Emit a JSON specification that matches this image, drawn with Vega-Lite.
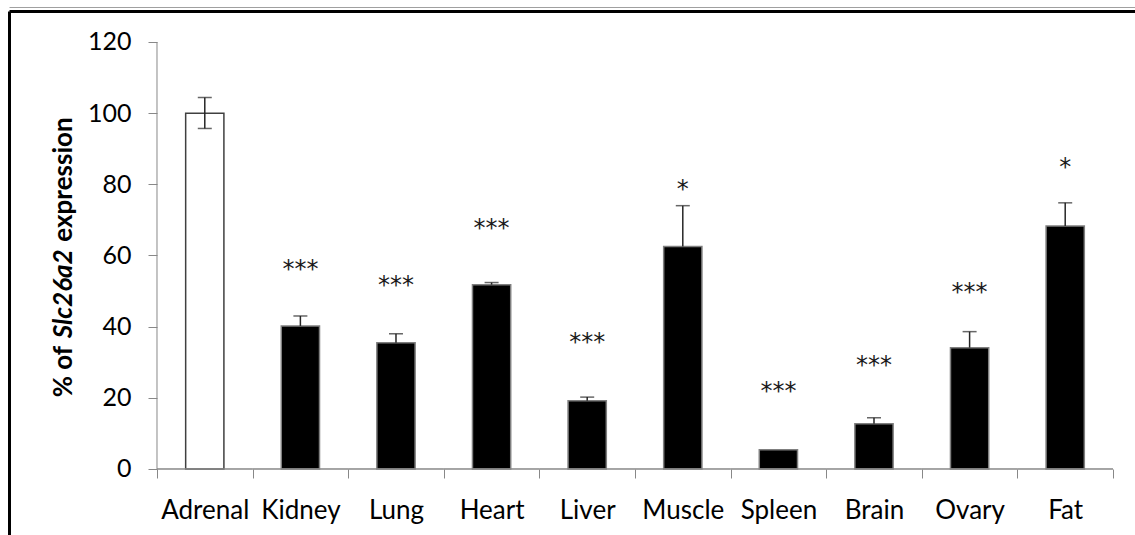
{
  "$schema": "https://vega.github.io/schema/vega-lite/v6.json",
  "width": 1126,
  "height": 524,
  "autosize": {"type": "none"},
  "padding": {"left": 9, "top": 11, "right": 0, "bottom": 0},
  "background": "white",
  "config": {"view": {"stroke": null}, "axis": {"grid": false}},
  "data": {
    "values": [
      {"cat": "Adrenal", "grp": "ctrl", "v": 100, "lo": 95.7, "hi": 104.4, "lc": 95.7, "sy": null, "st": null},
      {"cat": "Kidney", "grp": "test", "v": 40.2, "lo": 40.2, "hi": 43.0, "lc": null, "sy": 57.1, "st": "***"},
      {"cat": "Lung", "grp": "test", "v": 35.5, "lo": 35.5, "hi": 38.0, "lc": null, "sy": 52.5, "st": "***"},
      {"cat": "Heart", "grp": "test", "v": 51.8, "lo": 51.8, "hi": 52.4, "lc": null, "sy": 68.5, "st": "***"},
      {"cat": "Liver", "grp": "test", "v": 19.2, "lo": 19.2, "hi": 20.2, "lc": null, "sy": 36.5, "st": "***"},
      {"cat": "Muscle", "grp": "test", "v": 62.5, "lo": 62.5, "hi": 74.0, "lc": null, "sy": 79.6, "st": "*"},
      {"cat": "Spleen", "grp": "test", "v": 5.4, "lo": null, "hi": null, "lc": null, "sy": 22.7, "st": "***"},
      {"cat": "Brain", "grp": "test", "v": 12.7, "lo": 12.7, "hi": 14.4, "lc": null, "sy": 30.0, "st": "***"},
      {"cat": "Ovary", "grp": "test", "v": 34.1, "lo": 34.1, "hi": 38.6, "lc": null, "sy": 50.5, "st": "***"},
      {"cat": "Fat", "grp": "test", "v": 68.3, "lo": 68.3, "hi": 74.8, "lc": null, "sy": 85.7, "st": "*"}
    ]
  },
  "resolve": {"axis": {"x": "independent", "y": "independent"}},
  "layer": [
    {
      "mark": {"type": "bar", "width": {"band": 0.4}, "strokeWidth": 1.5},
      "encoding": {
        "x": {
          "field": "cat", "type": "nominal", "sort": null,
          "scale": {"paddingInner": 0, "paddingOuter": 0.889, "align": 0.8706},
          "axis": {
            "orient": "bottom", "offset": -66, "title": null, "domain": false,
            "ticks": true, "tickBand": "extent", "tickSize": 9, "tickColor": "#888888", "tickWidth": 1,
            "labelFont": "Lato", "labelFontSize": 26, "labelColor": "#000000",
            "labelAngle": 0, "labelPadding": 40, "labelBaseline": "alphabetic"
          }
        },
        "y": {
          "field": "v", "type": "quantitative",
          "scale": {"domain": [-18.55, 128.71], "nice": false, "zero": false},
          "axis": {
            "orient": "left", "offset": -148, "title": null, "domain": false,
            "values": [0, 20, 40, 60, 80, 100, 120],
            "tickSize": 9, "tickColor": "#888888", "tickWidth": 1,
            "labelFont": "Lato", "labelFontSize": 25, "labelColor": "#000000", "labelPadding": 17
          }
        },
        "y2": {"datum": 0},
        "fill": {"field": "grp", "type": "nominal", "scale": {"domain": ["ctrl", "test"], "range": ["#ffffff", "#000000"]}, "legend": null},
        "stroke": {"field": "grp", "type": "nominal", "scale": {"domain": ["ctrl", "test"], "range": ["#404040", "#7f7f7f"]}, "legend": null}
      }
    },
    {
      "mark": {"type": "rule", "color": "#262626", "strokeWidth": 1.5},
      "encoding": {
        "x": {
          "field": "cat", "type": "nominal", "sort": null,
          "axis": {"orient": "top", "offset": 0, "title": null, "domain": true, "domainColor": "#000000", "domainWidth": 3, "ticks": false, "labels": false}
        },
        "y": {
          "field": "lo", "type": "quantitative",
          "axis": {"orient": "left", "offset": 0, "title": null, "domain": true, "domainColor": "#000000", "domainWidth": 3, "ticks": false, "labels": false}
        },
        "y2": {"field": "hi"}
      }
    },
    {
      "mark": {"type": "tick", "color": "#262626", "thickness": 1.5, "size": 14},
      "encoding": {
        "x": {
          "field": "cat", "type": "nominal", "sort": null,
          "axis": {"orient": "top", "offset": 4, "title": null, "domain": true, "domainColor": "#a0a0a0", "domainWidth": 1, "ticks": false, "labels": false}
        },
        "y": {
          "field": "hi", "type": "quantitative",
          "axis": {
            "orient": "left", "offset": -148, "domain": false, "ticks": false, "labels": false,
            "title": "% of", "titleFont": "Lato", "titleFontSize": 26, "titleFontWeight": "bold", "titleColor": "#000000",
            "titleAngle": -90, "titleAlign": "right", "titleBaseline": "alphabetic", "titleX": -86, "titleY": 334.3
          }
        }
      }
    },
    {
      "mark": {"type": "tick", "color": "#262626", "thickness": 1.5, "size": 14},
      "encoding": {
        "x": {"field": "cat", "type": "nominal", "sort": null, "axis": null},
        "y": {
          "field": "lc", "type": "quantitative",
          "axis": {
            "orient": "left", "offset": -148, "domain": false, "ticks": false, "labels": false,
            "title": "Slc26a2", "titleFont": "Lato", "titleFontSize": 26, "titleFontWeight": "bold", "titleFontStyle": "italic", "titleColor": "#000000",
            "titleAngle": -90, "titleAlign": "center", "titleBaseline": "alphabetic", "titleX": -86, "titleY": 282.25
          }
        }
      }
    },
    {
      "mark": {"type": "text", "font": "DejaVu Sans", "fontSize": 24, "baseline": "alphabetic", "dy": 11, "color": "#1a1a1a"},
      "encoding": {
        "x": {"field": "cat", "type": "nominal", "sort": null, "axis": null},
        "y": {
          "field": "sy", "type": "quantitative",
          "axis": {
            "orient": "left", "offset": -148, "domain": false, "ticks": false, "labels": false,
            "title": "expression", "titleFont": "Lato", "titleFontSize": 26, "titleFontWeight": "bold", "titleColor": "#000000",
            "titleAngle": -90, "titleAlign": "left", "titleBaseline": "alphabetic", "titleX": -86, "titleY": 230.2
          }
        },
        "text": {"field": "st", "type": "nominal"}
      }
    },
    {
      "mark": {"type": "bar", "width": {"band": 1}, "fill": "transparent", "stroke": "#888888", "strokeWidth": 1},
      "encoding": {
        "x": {"field": "cat", "type": "nominal", "sort": null, "axis": null},
        "y": {"datum": 0, "axis": null},
        "y2": {"datum": 0}
      }
    },
    {
      "transform": [{"filter": "datum.cat == 'Adrenal'"}],
      "mark": {"type": "rule", "color": "#888888", "strokeWidth": 1},
      "encoding": {
        "x": {"field": "cat", "type": "nominal", "sort": null, "bandPosition": 0, "axis": null},
        "y": {"datum": 0, "axis": null},
        "y2": {"datum": 120}
      }
    }
  ]
}
